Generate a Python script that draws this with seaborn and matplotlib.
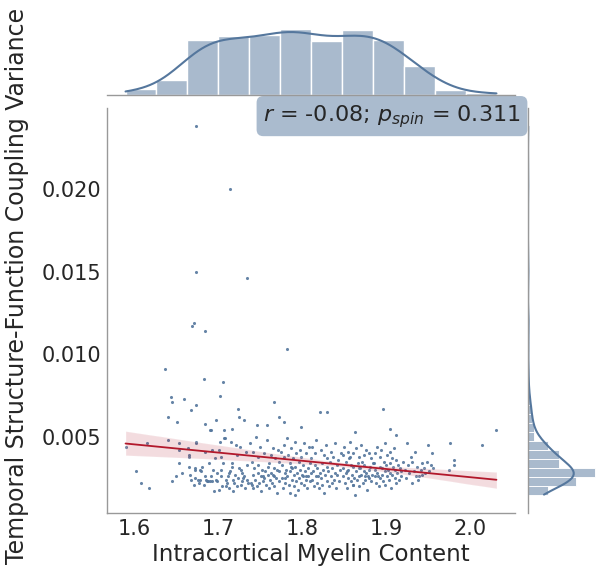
import matplotlib
matplotlib.use("Agg")
import matplotlib.pyplot as plt
import seaborn as sns
import pandas as pd

# Intracortical myelin content (x) per parcel, grouped by x-range
myelin = [
    # 1.59-1.63
    1.590, 1.602, 1.608, 1.615, 1.618,
    # 1.63-1.66
    1.637, 1.644, 1.645, 1.659, 1.641, 1.651, 1.641, 1.645, 1.650, 1.653, 1.653, 1.654, 1.657,
    # 1.66-1.70
    1.674, 1.674, 1.671, 1.669, 1.685, 1.683, 1.674, 1.668, 1.698, 1.684, 1.691, 1.692,
    1.664, 1.666, 1.666, 1.666, 1.668, 1.671, 1.673, 1.673, 1.674, 1.674,
    1.678, 1.677, 1.679, 1.681, 1.685, 1.685, 1.686, 1.687, 1.688, 1.690,
    1.693, 1.693, 1.694, 1.695, 1.698, 1.699, 1.699, 1.701,
    1.667, 1.672, 1.676, 1.680, 1.683, 1.689, 1.692, 1.696,
    # 1.70-1.74
    1.714, 1.735, 1.706, 1.702, 1.724, 1.725, 1.731, 1.717, 1.707,
    1.701, 1.702, 1.703, 1.704, 1.705, 1.706, 1.707, 1.708, 1.709, 1.710,
    1.711, 1.712, 1.713, 1.714, 1.715, 1.716, 1.717, 1.718, 1.719, 1.720,
    1.721, 1.722, 1.723, 1.724, 1.725, 1.726, 1.727, 1.728, 1.729, 1.730,
    1.731, 1.732, 1.733, 1.734, 1.735, 1.736, 1.703, 1.713, 1.727, 1.718,
    # 1.74-1.77
    1.766, 1.746, 1.758, 1.773,
    1.738, 1.739, 1.740, 1.741, 1.742, 1.742, 1.743, 1.744, 1.745, 1.746,
    1.747, 1.747, 1.748, 1.749, 1.750, 1.751, 1.751, 1.752, 1.753, 1.754,
    1.755, 1.755, 1.756, 1.757, 1.758, 1.759, 1.759, 1.760, 1.761, 1.762,
    1.763, 1.763, 1.764, 1.765, 1.766, 1.767, 1.767, 1.768, 1.769, 1.770,
    1.770, 1.771, 1.772, 1.772, 1.773, 1.740, 1.765,
    # 1.77-1.81
    1.782, 1.778, 1.799,
    1.775, 1.776, 1.776, 1.777, 1.778, 1.779, 1.779, 1.780, 1.781, 1.782,
    1.782, 1.783, 1.784, 1.785, 1.785, 1.786, 1.787, 1.788, 1.788, 1.789,
    1.790, 1.790, 1.791, 1.792, 1.793, 1.793, 1.794, 1.795, 1.796, 1.796,
    1.797, 1.798, 1.799, 1.799, 1.800, 1.801, 1.802, 1.802, 1.803, 1.804,
    1.804, 1.805, 1.806, 1.807, 1.807, 1.808, 1.809, 1.809, 1.810, 1.778,
    1.792, 1.801, 1.787,
    # 1.81-1.85
    1.821, 1.830,
    1.811, 1.812, 1.812, 1.813, 1.814, 1.815, 1.815, 1.816, 1.817, 1.818,
    1.818, 1.819, 1.820, 1.821, 1.822, 1.822, 1.823, 1.824, 1.825, 1.826,
    1.826, 1.827, 1.828, 1.829, 1.830, 1.830, 1.831, 1.832, 1.833, 1.834,
    1.834, 1.835, 1.836, 1.837, 1.838, 1.839, 1.839, 1.840, 1.841, 1.842,
    1.843, 1.844, 1.845, 1.846,
    # 1.85-1.88
    1.863,
    1.848, 1.849, 1.849, 1.850, 1.851, 1.852, 1.852, 1.853, 1.854, 1.855,
    1.855, 1.856, 1.857, 1.858, 1.858, 1.859, 1.860, 1.861, 1.861, 1.862,
    1.863, 1.864, 1.864, 1.865, 1.866, 1.867, 1.867, 1.868, 1.869, 1.870,
    1.870, 1.871, 1.872, 1.873, 1.873, 1.874, 1.875, 1.876, 1.876, 1.877,
    1.878, 1.879, 1.879, 1.880, 1.881, 1.882, 1.882, 1.883, 1.884, 1.853,
    1.860, 1.868, 1.875, 1.857,
    # 1.88-1.92
    1.896, 1.905, 1.911,
    1.885, 1.886, 1.886, 1.887, 1.888, 1.889, 1.889, 1.890, 1.891, 1.892,
    1.892, 1.893, 1.894, 1.895, 1.895, 1.896, 1.897, 1.898, 1.898, 1.899,
    1.900, 1.901, 1.901, 1.902, 1.903, 1.904, 1.904, 1.905, 1.906, 1.907,
    1.907, 1.908, 1.909, 1.910, 1.910, 1.911, 1.912, 1.913, 1.914, 1.915,
    1.916, 1.917, 1.918, 1.920,
    # 1.92-1.96
    1.922, 1.923, 1.925, 1.926, 1.927, 1.929, 1.930, 1.931, 1.933, 1.934,
    1.935, 1.937, 1.938, 1.939, 1.941, 1.942, 1.943, 1.945, 1.946, 1.948,
    1.950, 1.951, 1.953, 1.954, 1.956,
    # 1.96-2.03
    1.974, 1.976, 1.980, 1.980,
    2.014, 2.031,
]

# Temporal structure-function coupling variance (y), same order
variance = [
    # 1.59-1.63
    0.0044, 0.0029, 0.0022, 0.0046, 0.0019,
    # 1.63-1.66
    0.0091, 0.0074, 0.0071, 0.0073, 0.0062, 0.0059, 0.0048, 0.0023, 0.0026, 0.0046, 0.0042, 0.0034, 0.0028,
    # 1.66-1.70
    0.0238, 0.0150, 0.0119, 0.0117, 0.0114, 0.0085, 0.0069, 0.0066, 0.0060, 0.0058, 0.0054, 0.0054,
    0.0043, 0.0039, 0.0038, 0.0032, 0.0024, 0.0021, 0.0030, 0.0025, 0.0047, 0.0046,
    0.0030, 0.0022, 0.0024, 0.0032, 0.0041, 0.0026, 0.0024, 0.0023, 0.0023, 0.0023,
    0.0042, 0.0023, 0.0030, 0.0017, 0.0024, 0.0023, 0.0028, 0.0018,
    0.0027, 0.0031, 0.0024, 0.0029, 0.0021, 0.0034, 0.0026, 0.0037,
    # 1.70-1.74
    0.0200, 0.0146, 0.0083, 0.0075, 0.0067, 0.0062, 0.0060, 0.0055, 0.0054,
    0.0042, 0.0047, 0.0038, 0.0030, 0.0020, 0.0034, 0.0049, 0.0049, 0.0024, 0.0020,
    0.0022, 0.0026, 0.0019, 0.0029, 0.0047, 0.0032, 0.0034, 0.0024, 0.0022, 0.0027,
    0.0045, 0.0020, 0.0039, 0.0025, 0.0031, 0.0044, 0.0021, 0.0028, 0.0023, 0.0025,
    0.0026, 0.0019, 0.0041, 0.0024, 0.0033, 0.0022, 0.0026, 0.0028, 0.0030, 0.0017,
    # 1.74-1.77
    0.0071, 0.0057, 0.0057, 0.0062,
    0.0046, 0.0022, 0.0035, 0.0019, 0.0041, 0.0027, 0.0031, 0.0024, 0.0050, 0.0020,
    0.0033, 0.0028, 0.0038, 0.0022, 0.0044, 0.0026, 0.0017, 0.0030, 0.0026, 0.0023,
    0.0040, 0.0025, 0.0029, 0.0021, 0.0048, 0.0032, 0.0027, 0.0019, 0.0034, 0.0024,
    0.0039, 0.0028, 0.0022, 0.0043, 0.0026, 0.0031, 0.0020, 0.0037, 0.0025, 0.0016,
    0.0030, 0.0042, 0.0023, 0.0029, 0.0035, 0.0021, 0.0027,
    # 1.77-1.81
    0.0103, 0.0059, 0.0056,
    0.0041, 0.0025, 0.0033, 0.0019, 0.0045, 0.0028, 0.0025, 0.0022, 0.0030, 0.0049,
    0.0026, 0.0039, 0.0021, 0.0034, 0.0016, 0.0029, 0.0043, 0.0024, 0.0031, 0.0037,
    0.0020, 0.0027, 0.0047, 0.0032, 0.0023, 0.0040, 0.0028, 0.0018, 0.0035, 0.0025,
    0.0042, 0.0030, 0.0022, 0.0038, 0.0027, 0.0033, 0.0046, 0.0021, 0.0029, 0.0026,
    0.0024, 0.0040, 0.0019, 0.0031, 0.0026, 0.0044, 0.0023, 0.0034, 0.0028, 0.0038,
    0.0015, 0.0026, 0.0032,
    # 1.81-1.85
    0.0065, 0.0065,
    0.0037, 0.0024, 0.0044, 0.0029, 0.0020, 0.0033, 0.0040, 0.0026, 0.0048, 0.0022,
    0.0031, 0.0026, 0.0019, 0.0028, 0.0042, 0.0025, 0.0034, 0.0021, 0.0030, 0.0039,
    0.0016, 0.0027, 0.0045, 0.0032, 0.0023, 0.0037, 0.0029, 0.0020, 0.0035, 0.0026,
    0.0041, 0.0022, 0.0031, 0.0038, 0.0024, 0.0028, 0.0046, 0.0019, 0.0033, 0.0027,
    0.0036, 0.0023, 0.0030, 0.0040,
    # 1.85-1.88
    0.0053,
    0.0039, 0.0026, 0.0031, 0.0044, 0.0022, 0.0035, 0.0028, 0.0019, 0.0041, 0.0030,
    0.0025, 0.0037, 0.0047, 0.0023, 0.0033, 0.0027, 0.0040, 0.0021, 0.0032, 0.0025,
    0.0015, 0.0029, 0.0043, 0.0024, 0.0034, 0.0038, 0.0026, 0.0020, 0.0031, 0.0045,
    0.0027, 0.0035, 0.0022, 0.0039, 0.0029, 0.0033, 0.0024, 0.0042, 0.0028, 0.0018,
    0.0026, 0.0030, 0.0025, 0.0040, 0.0032, 0.0023, 0.0037, 0.0027, 0.0034, 0.0029,
    0.0021, 0.0031, 0.0026, 0.0038,
    # 1.88-1.92
    0.0067, 0.0055, 0.0051,
    0.0034, 0.0026, 0.0040, 0.0030, 0.0022, 0.0044, 0.0028, 0.0026, 0.0020, 0.0032,
    0.0025, 0.0038, 0.0042, 0.0027, 0.0031, 0.0023, 0.0035, 0.0046, 0.0029, 0.0021,
    0.0033, 0.0039, 0.0026, 0.0030, 0.0024, 0.0041, 0.0028, 0.0034, 0.0019, 0.0037,
    0.0027, 0.0032, 0.0043, 0.0025, 0.0030, 0.0022, 0.0036, 0.0028, 0.0033, 0.0024,
    0.0031, 0.0026, 0.0029, 0.0035,
    # 1.92-1.96
    0.0030, 0.0025, 0.0046, 0.0033, 0.0028, 0.0038, 0.0022, 0.0035, 0.0029, 0.0041,
    0.0026, 0.0032, 0.0024, 0.0026, 0.0030, 0.0027, 0.0034, 0.0031, 0.0028, 0.0035,
    0.0045, 0.0029, 0.0033, 0.0040, 0.0031,
    # 1.96-2.03
    0.0030, 0.0046, 0.0036, 0.0033,
    0.0045, 0.0054,
]

x_label = "Intracortical Myelin Content"
y_label = "Temporal Structure-Function Coupling Variance"
stat_text = r"$r$ = -0.08; $p_{spin}$ = 0.311"

assert len(myelin) == len(variance), (len(myelin), len(variance))
df = pd.DataFrame({x_label: myelin, y_label: variance})

sns.set_theme(style="white")
plt.rcParams["font.family"] = ["DejaVu Sans"]

main_color = "#55779d"
line_color = "#b2182b"

g = sns.jointplot(
    data=df, x=x_label, y=y_label, kind="reg", color=main_color, height=5.72,
    joint_kws=dict(scatter_kws=dict(s=5, alpha=0.9, linewidths=0),
                   line_kws=dict(color=line_color, lw=1.3), seed=0),
)
fig = g.figure
fig.set_size_inches(5.97, 5.72)
fig.set_dpi(100)

W, H = 597, 572
def place(ax, left, top, right, bottom):
    ax.set_position([left / W, 1 - bottom / H, (right - left) / W, (bottom - top) / H])

place(g.ax_joint, 107, 108, 515, 513)
place(g.ax_marg_x, 107, 26, 515, 95)
place(g.ax_marg_y, 528, 108, 598, 513)

ax = g.ax_joint
ax.set_xlabel(x_label, fontsize=16.5, color="#262626", labelpad=3)
ax.set_ylabel(y_label, fontsize=17, color="#262626")
ax.yaxis.set_label_coords(-0.19, 0.56)
ax.tick_params(labelsize=15, colors="#262626", length=0, pad=4)
ax.set_xticks([1.6, 1.7, 1.8, 1.9, 2.0])
ax.set_yticks([0.005, 0.010, 0.015, 0.020])

for a in (g.ax_joint, g.ax_marg_x, g.ax_marg_y):
    for sp in a.spines.values():
        sp.set_color("0.6")
        sp.set_linewidth(1.0)

ax.text(1.014, 0.98, stat_text, transform=ax.transAxes, ha="right", va="center",
        fontsize=16, color="#262626", zorder=10,
        bbox=dict(boxstyle="round,pad=0.3", fc="#aabbce", ec="none"))

fig.savefig("out.png", dpi=100)
